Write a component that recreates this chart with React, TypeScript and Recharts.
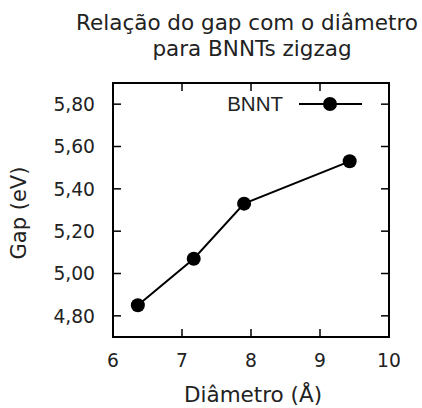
import React from "react";
import { ComposedChart, Line, XAxis, YAxis, ReferenceArea } from "recharts";

// diameter (Å) and band gap (eV) of zigzag BNNTs
const diametro = [6.36, 7.17, 7.9, 9.43];
const gap = [4.85, 5.07, 5.33, 5.53];

const xTicks = [6, 7, 8, 9, 10];
const yTicks = [4.8, 5.0, 5.2, 5.4, 5.6, 5.8];

const titulo = ["Relação do gap com o diâmetro", "para BNNTs zigzag"];
const serieNome = "BNNT";

const data = diametro.map((d, i) => ({ diametro: d, gap: gap[i] }));

const W = 422;
const H = 408;
const PLOT = { left: 113, right: 389, top: 83, bottom: 337 };
const TICK_LEN = 8;
const FONT = "'DejaVu Sans', Verdana, sans-serif";
const INK = "#222";

const fmt = (v: number) => v.toFixed(2).replace(".", ",");

const YTick = (props: any) => {
  const { y, payload } = props;
  return (
    <g>
      <line x1={PLOT.left} x2={PLOT.left + TICK_LEN} y1={y} y2={y} stroke="#000" strokeWidth={1.5} />
      <line x1={PLOT.right - TICK_LEN} x2={PLOT.right} y1={y} y2={y} stroke="#000" strokeWidth={1.5} />
      <text x={95} y={y} dy="0.36em" textAnchor="end" fontFamily={FONT} fontSize={18.7} fill={INK}>
        {fmt(payload.value)}
      </text>
    </g>
  );
};

const XTick = (props: any) => {
  const { x, payload } = props;
  return (
    <g>
      <line x1={x} x2={x} y1={PLOT.bottom} y2={PLOT.bottom - TICK_LEN} stroke="#000" strokeWidth={1.5} />
      <line x1={x} x2={x} y1={PLOT.top} y2={PLOT.top + TICK_LEN} stroke="#000" strokeWidth={1.5} />
      <text x={x} y={367} textAnchor="middle" fontFamily={FONT} fontSize={18.7} fill={INK}>
        {payload.value}
      </text>
    </g>
  );
};

const YLabel = () => (
  <text
    x={26}
    y={213}
    transform="rotate(-90 26 213)"
    textAnchor="middle"
    fontFamily={FONT}
    fontSize={21}
    fill={INK}
  >
    Gap (eV)
  </text>
);

const XLabel = () => (
  <text x={253} y={402} textAnchor="middle" fontFamily={FONT} fontSize={21.5} fill={INK}>
    Diâmetro (Å)
  </text>
);

export default function App() {
  return (
    <div style={{ position: "absolute", left: 0, top: 0, width: W, height: H, background: "#fff" }}>
      <ComposedChart
        width={W}
        height={H}
        data={data}
        margin={{ top: PLOT.top, right: W - PLOT.right, left: 0, bottom: 0 }}
      >
        <XAxis
          dataKey="diametro"
          type="number"
          domain={[6, 10]}
          ticks={xTicks}
          axisLine={false}
          tickLine={false}
          tick={<XTick />}
          height={H - PLOT.bottom}
          label={<XLabel />}
          interval={0}
        />
        <YAxis
          type="number"
          domain={[4.7, 5.9]}
          ticks={yTicks}
          axisLine={false}
          tickLine={false}
          tick={<YTick />}
          width={PLOT.left}
          label={<YLabel />}
          interval={0}
        />
        <ReferenceArea
          x1={6}
          x2={10}
          y1={4.7}
          y2={5.9}
          fill="none"
          fillOpacity={0}
          stroke="#000"
          strokeWidth={2}
        />
        <Line
          dataKey="gap"
          name={serieNome}
          stroke="#000"
          strokeWidth={2}
          dot={{ r: 7, fill: "#000", stroke: "#000", strokeWidth: 0 }}
          activeDot={false}
          isAnimationActive={false}
        />
      </ComposedChart>
      {/* title and key */}
      <svg
        width={W}
        height={H}
        style={{ position: "absolute", left: 0, top: 0, pointerEvents: "none" }}
      >
        <text x={247} y={30} textAnchor="middle" fontFamily={FONT} fontSize={21.5} fill={INK}>
          {titulo[0]}
        </text>
        <text x={252} y={56} textAnchor="middle" fontFamily={FONT} fontSize={21.5} fill={INK}>
          {titulo[1]}
        </text>
        <text
          x={283}
          y={111}
          textAnchor="end"
          fontFamily="'Liberation Sans', Arial, sans-serif"
          fontSize={20.5}
          fill={INK}
        >
          {serieNome}
        </text>
        <line x1={299} x2={362} y1={104} y2={104} stroke="#000" strokeWidth={2} />
        <circle cx={330} cy={104} r={7} fill="#000" />
      </svg>
    </div>
  );
}
